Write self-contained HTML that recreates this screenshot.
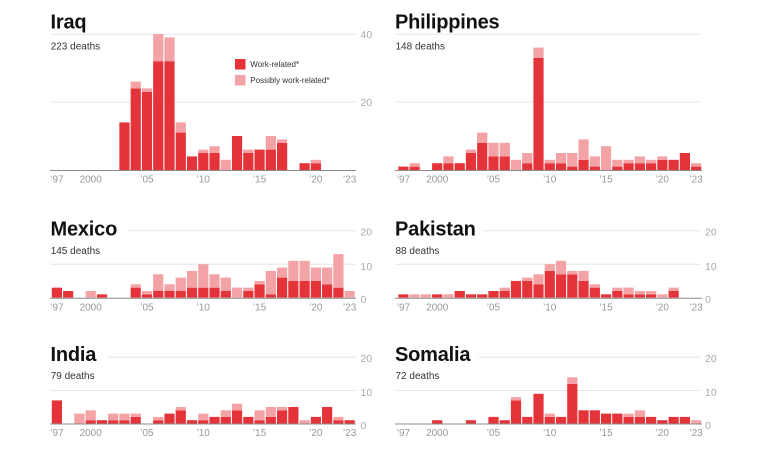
<!DOCTYPE html>
<html>
<head>
<meta charset="utf-8">
<style>
  html,body{margin:0;padding:0;background:#fff;}
  svg{display:block;}
  .t{font-family:"Liberation Sans",Arial,sans-serif;font-weight:bold;font-size:20px;fill:#111;letter-spacing:-0.2px;}
  .d{font-family:"Liberation Sans",Arial,sans-serif;font-size:10px;fill:#333;}
  .ax{font-family:"Liberation Sans",Arial,sans-serif;font-size:10.5px;fill:#aaa;}
  .xl{font-family:"Liberation Sans",Arial,sans-serif;font-size:10px;fill:#999;text-anchor:middle;}
  .lg{font-family:"Liberation Sans",Arial,sans-serif;font-size:8px;fill:#333;}
  .g{stroke:#e6e6e6;stroke-width:1;}
  .b{stroke:#8c8c8c;stroke-width:1;}
  .k{fill:#e5333a;}
  .p{fill:#f3a2a6;}
</style>
</head>
<body>
<svg width="760" height="450" viewBox="0 0 760 450" xmlns="http://www.w3.org/2000/svg">
  <rect width="760" height="450" fill="#fff"/>

  <!-- ================= ROW 1 ================= -->
  <!-- gridlines -->
  <line class="g" x1="50" y1="34.3" x2="355.5" y2="34.3"/>
  <line class="g" x1="50" y1="102" x2="355.5" y2="102"/>
  <line class="g" x1="395" y1="34.3" x2="700" y2="34.3"/>
  <line class="g" x1="395" y1="102" x2="700" y2="102"/>

  <text class="t" x="50.5" y="28.3">Iraq</text>
  <text class="d" x="50.7" y="49.5">223 deaths</text>
  <text class="t" x="395" y="28.3">Philippines</text>
  <text class="d" x="395.5" y="49.5">148 deaths</text>

  <text class="ax" x="360.5" y="38">40</text>
  <text class="ax" x="360.5" y="105.8">20</text>

  <!-- Iraq bars -->
  <g transform="translate(51.8,170) scale(11.26,-3.4)">
    <rect class="k" x="6" y="0" width="0.906" height="14"/>
    <rect class="k" x="7" y="0" width="0.906" height="24"/><rect class="p" x="7" y="24" width="0.906" height="2"/>
    <rect class="k" x="8" y="0" width="0.906" height="23"/><rect class="p" x="8" y="23" width="0.906" height="1"/>
    <rect class="k" x="9" y="0" width="0.906" height="32"/><rect class="p" x="9" y="32" width="0.906" height="8"/>
    <rect class="k" x="10" y="0" width="0.906" height="32"/><rect class="p" x="10" y="32" width="0.906" height="7"/>
    <rect class="k" x="11" y="0" width="0.906" height="11"/><rect class="p" x="11" y="11" width="0.906" height="3"/>
    <rect class="k" x="12" y="0" width="0.906" height="4"/>
    <rect class="k" x="13" y="0" width="0.906" height="5"/><rect class="p" x="13" y="5" width="0.906" height="1"/>
    <rect class="k" x="14" y="0" width="0.906" height="5"/><rect class="p" x="14" y="5" width="0.906" height="2"/>
    <rect class="p" x="15" y="0" width="0.906" height="3"/>
    <rect class="k" x="16" y="0" width="0.906" height="10"/>
    <rect class="k" x="17" y="0" width="0.906" height="5"/><rect class="p" x="17" y="5" width="0.906" height="1"/>
    <rect class="k" x="18" y="0" width="0.906" height="6"/>
    <rect class="k" x="19" y="0" width="0.906" height="6"/><rect class="p" x="19" y="6" width="0.906" height="4"/>
    <rect class="k" x="20" y="0" width="0.906" height="8"/><rect class="p" x="20" y="8" width="0.906" height="1"/>
    <rect class="k" x="22" y="0" width="0.906" height="2"/>
    <rect class="k" x="23" y="0" width="0.906" height="2"/><rect class="p" x="23" y="2" width="0.906" height="1"/>
  </g>
  <line class="b" x1="50" y1="170.5" x2="356" y2="170.5"/>

  <!-- Legend -->
  <rect class="k" x="235" y="59" width="10.5" height="10.5"/>
  <text class="lg" x="250.3" y="67.1">Work-related*</text>
  <rect class="p" x="235" y="75" width="10.5" height="10.5"/>
  <text class="lg" x="250.3" y="83.1">Possibly work-related*</text>

  <!-- Philippines bars -->
  <g transform="translate(398.3,170) scale(11.26,-3.4)">
    <rect class="k" x="0" y="0" width="0.906" height="1"/>
    <rect class="k" x="1" y="0" width="0.906" height="1"/><rect class="p" x="1" y="1" width="0.906" height="1"/>
    <rect class="k" x="3" y="0" width="0.906" height="2"/>
    <rect class="k" x="4" y="0" width="0.906" height="2"/><rect class="p" x="4" y="2" width="0.906" height="2"/>
    <rect class="k" x="5" y="0" width="0.906" height="2"/>
    <rect class="k" x="6" y="0" width="0.906" height="5"/><rect class="p" x="6" y="5" width="0.906" height="1"/>
    <rect class="k" x="7" y="0" width="0.906" height="8"/><rect class="p" x="7" y="8" width="0.906" height="3"/>
    <rect class="k" x="8" y="0" width="0.906" height="4"/><rect class="p" x="8" y="4" width="0.906" height="4"/>
    <rect class="k" x="9" y="0" width="0.906" height="4"/><rect class="p" x="9" y="4" width="0.906" height="4"/>
    <rect class="p" x="10" y="0" width="0.906" height="3"/>
    <rect class="k" x="11" y="0" width="0.906" height="2"/><rect class="p" x="11" y="2" width="0.906" height="3"/>
    <rect class="k" x="12" y="0" width="0.906" height="33"/><rect class="p" x="12" y="33" width="0.906" height="3"/>
    <rect class="k" x="13" y="0" width="0.906" height="2"/><rect class="p" x="13" y="2" width="0.906" height="1"/>
    <rect class="k" x="14" y="0" width="0.906" height="2"/><rect class="p" x="14" y="2" width="0.906" height="3"/>
    <rect class="k" x="15" y="0" width="0.906" height="1"/><rect class="p" x="15" y="1" width="0.906" height="4"/>
    <rect class="k" x="16" y="0" width="0.906" height="3"/><rect class="p" x="16" y="3" width="0.906" height="6"/>
    <rect class="k" x="17" y="0" width="0.906" height="1"/><rect class="p" x="17" y="1" width="0.906" height="3"/>
    <rect class="p" x="18" y="0" width="0.906" height="7"/>
    <rect class="k" x="19" y="0" width="0.906" height="1"/><rect class="p" x="19" y="1" width="0.906" height="2"/>
    <rect class="k" x="20" y="0" width="0.906" height="2"/><rect class="p" x="20" y="2" width="0.906" height="1"/>
    <rect class="k" x="21" y="0" width="0.906" height="2"/><rect class="p" x="21" y="2" width="0.906" height="2"/>
    <rect class="k" x="22" y="0" width="0.906" height="2"/><rect class="p" x="22" y="2" width="0.906" height="1"/>
    <rect class="k" x="23" y="0" width="0.906" height="3"/><rect class="p" x="23" y="3" width="0.906" height="1"/>
    <rect class="k" x="24" y="0" width="0.906" height="3"/>
    <rect class="k" x="25" y="0" width="0.906" height="5"/>
    <rect class="k" x="26" y="0" width="0.906" height="1"/><rect class="p" x="26" y="1" width="0.906" height="1"/>
  </g>
  <line class="b" x1="395" y1="170.5" x2="702" y2="170.5"/>

  <!-- x labels row 1 -->
  <text class="xl" x="56.9" y="182.6">’97</text>
  <text class="xl" x="90.7" y="182.6">2000</text>
  <text class="xl" x="146.9" y="182.6">’05</text>
  <text class="xl" x="203.2" y="182.6">’10</text>
  <text class="xl" x="259.5" y="182.6">’15</text>
  <text class="xl" x="315.8" y="182.6">’20</text>
  <text class="xl" x="349.6" y="182.6">’23</text>
  <text class="xl" x="403.4" y="182.6">’97</text>
  <text class="xl" x="437.2" y="182.6">2000</text>
  <text class="xl" x="493.4" y="182.6">’05</text>
  <text class="xl" x="549.7" y="182.6">’10</text>
  <text class="xl" x="606" y="182.6">’15</text>
  <text class="xl" x="662.3" y="182.6">’20</text>
  <text class="xl" x="696.1" y="182.6">’23</text>

  <!-- ================= ROW 2 ================= -->
  <line class="g" x1="128" y1="230.7" x2="355.5" y2="230.7"/>
  <line class="g" x1="50" y1="264.2" x2="355.5" y2="264.2"/>
  <line class="g" x1="482.7" y1="230.7" x2="700" y2="230.7"/>
  <line class="g" x1="395" y1="264.2" x2="700" y2="264.2"/>

  <text class="t" x="50.5" y="235.7">Mexico</text>
  <text class="d" x="50.7" y="254.2">145 deaths</text>
  <text class="t" x="395" y="235.7">Pakistan</text>
  <text class="d" x="395.5" y="254.2">88 deaths</text>

  <text class="ax" x="360.5" y="235.5">20</text>
  <text class="ax" x="360.5" y="269.8">10</text>
  <text class="ax" x="360.5" y="303">0</text>
  <text class="ax" x="705" y="235.5">20</text>
  <text class="ax" x="705" y="269.8">10</text>
  <text class="ax" x="705" y="303">0</text>

  <!-- Mexico -->
  <g transform="translate(51.8,297.7) scale(11.26,-3.35)">
    <rect class="k" x="0" y="0" width="0.906" height="3"/>
    <rect class="k" x="1" y="0" width="0.906" height="2"/>
    <rect class="p" x="3" y="0" width="0.906" height="2"/>
    <rect class="k" x="4" y="0" width="0.906" height="1"/>
    <rect class="k" x="7" y="0" width="0.906" height="3"/><rect class="p" x="7" y="3" width="0.906" height="1"/>
    <rect class="k" x="8" y="0" width="0.906" height="1"/><rect class="p" x="8" y="1" width="0.906" height="1"/>
    <rect class="k" x="9" y="0" width="0.906" height="2"/><rect class="p" x="9" y="2" width="0.906" height="5"/>
    <rect class="k" x="10" y="0" width="0.906" height="2"/><rect class="p" x="10" y="2" width="0.906" height="2"/>
    <rect class="k" x="11" y="0" width="0.906" height="2"/><rect class="p" x="11" y="2" width="0.906" height="4"/>
    <rect class="k" x="12" y="0" width="0.906" height="3"/><rect class="p" x="12" y="3" width="0.906" height="5"/>
    <rect class="k" x="13" y="0" width="0.906" height="3"/><rect class="p" x="13" y="3" width="0.906" height="7"/>
    <rect class="k" x="14" y="0" width="0.906" height="3"/><rect class="p" x="14" y="3" width="0.906" height="4"/>
    <rect class="k" x="15" y="0" width="0.906" height="2"/><rect class="p" x="15" y="2" width="0.906" height="4"/>
    <rect class="p" x="16" y="0" width="0.906" height="3"/>
    <rect class="k" x="17" y="0" width="0.906" height="2"/><rect class="p" x="17" y="2" width="0.906" height="1"/>
    <rect class="k" x="18" y="0" width="0.906" height="4"/><rect class="p" x="18" y="4" width="0.906" height="1"/>
    <rect class="k" x="19" y="0" width="0.906" height="1"/><rect class="p" x="19" y="1" width="0.906" height="7"/>
    <rect class="k" x="20" y="0" width="0.906" height="6"/><rect class="p" x="20" y="6" width="0.906" height="3"/>
    <rect class="k" x="21" y="0" width="0.906" height="5"/><rect class="p" x="21" y="5" width="0.906" height="6"/>
    <rect class="k" x="22" y="0" width="0.906" height="5"/><rect class="p" x="22" y="5" width="0.906" height="6"/>
    <rect class="k" x="23" y="0" width="0.906" height="5"/><rect class="p" x="23" y="5" width="0.906" height="4"/>
    <rect class="k" x="24" y="0" width="0.906" height="4"/><rect class="p" x="24" y="4" width="0.906" height="5"/>
    <rect class="k" x="25" y="0" width="0.906" height="3"/><rect class="p" x="25" y="3" width="0.906" height="10"/>
    <rect class="p" x="26" y="0" width="0.906" height="2"/>
  </g>
  <line class="b" x1="50" y1="298.2" x2="356" y2="298.2"/>

  <!-- Pakistan -->
  <g transform="translate(398.3,297.7) scale(11.26,-3.35)">
    <rect class="k" x="0" y="0" width="0.906" height="1"/>
    <rect class="p" x="1" y="0" width="0.906" height="1"/>
    <rect class="p" x="2" y="0" width="0.906" height="1"/>
    <rect class="k" x="3" y="0" width="0.906" height="1"/>
    <rect class="p" x="4" y="0" width="0.906" height="1"/>
    <rect class="k" x="5" y="0" width="0.906" height="2"/>
    <rect class="k" x="6" y="0" width="0.906" height="1"/>
    <rect class="k" x="7" y="0" width="0.906" height="1"/>
    <rect class="k" x="8" y="0" width="0.906" height="2"/>
    <rect class="k" x="9" y="0" width="0.906" height="2"/><rect class="p" x="9" y="2" width="0.906" height="1"/>
    <rect class="k" x="10" y="0" width="0.906" height="5"/>
    <rect class="k" x="11" y="0" width="0.906" height="5"/><rect class="p" x="11" y="5" width="0.906" height="1"/>
    <rect class="k" x="12" y="0" width="0.906" height="4"/><rect class="p" x="12" y="4" width="0.906" height="3"/>
    <rect class="k" x="13" y="0" width="0.906" height="8"/><rect class="p" x="13" y="8" width="0.906" height="2"/>
    <rect class="k" x="14" y="0" width="0.906" height="7"/><rect class="p" x="14" y="7" width="0.906" height="4"/>
    <rect class="k" x="15" y="0" width="0.906" height="7"/><rect class="p" x="15" y="7" width="0.906" height="1"/>
    <rect class="k" x="16" y="0" width="0.906" height="5"/><rect class="p" x="16" y="5" width="0.906" height="3"/>
    <rect class="k" x="17" y="0" width="0.906" height="3"/><rect class="p" x="17" y="3" width="0.906" height="1"/>
    <rect class="k" x="18" y="0" width="0.906" height="1"/>
    <rect class="k" x="19" y="0" width="0.906" height="2"/><rect class="p" x="19" y="2" width="0.906" height="1"/>
    <rect class="k" x="20" y="0" width="0.906" height="1"/><rect class="p" x="20" y="1" width="0.906" height="2"/>
    <rect class="k" x="21" y="0" width="0.906" height="1"/><rect class="p" x="21" y="1" width="0.906" height="1"/>
    <rect class="k" x="22" y="0" width="0.906" height="1"/><rect class="p" x="22" y="1" width="0.906" height="1"/>
    <rect class="p" x="23" y="0" width="0.906" height="1"/>
    <rect class="k" x="24" y="0" width="0.906" height="2"/><rect class="p" x="24" y="2" width="0.906" height="1"/>
  </g>
  <line class="b" x1="395" y1="298.2" x2="702" y2="298.2"/>

  <!-- x labels row 2 -->
  <text class="xl" x="56.9" y="310.3">’97</text>
  <text class="xl" x="90.7" y="310.3">2000</text>
  <text class="xl" x="146.9" y="310.3">’05</text>
  <text class="xl" x="203.2" y="310.3">’10</text>
  <text class="xl" x="259.5" y="310.3">’15</text>
  <text class="xl" x="315.8" y="310.3">’20</text>
  <text class="xl" x="349.6" y="310.3">’23</text>
  <text class="xl" x="403.4" y="310.3">’97</text>
  <text class="xl" x="437.2" y="310.3">2000</text>
  <text class="xl" x="493.4" y="310.3">’05</text>
  <text class="xl" x="549.7" y="310.3">’10</text>
  <text class="xl" x="606" y="310.3">’15</text>
  <text class="xl" x="662.3" y="310.3">’20</text>
  <text class="xl" x="696.1" y="310.3">’23</text>

  <!-- ================= ROW 3 ================= -->
  <line class="g" x1="106.7" y1="357.3" x2="355.5" y2="357.3"/>
  <line class="g" x1="50" y1="390.5" x2="355.5" y2="390.5"/>
  <line class="g" x1="478.3" y1="357.3" x2="700" y2="357.3"/>
  <line class="g" x1="395" y1="390.5" x2="700" y2="390.5"/>

  <text class="t" x="50.5" y="361">India</text>
  <text class="d" x="50.7" y="379.2">79 deaths</text>
  <text class="t" x="395" y="361">Somalia</text>
  <text class="d" x="395.5" y="379.2">72 deaths</text>

  <text class="ax" x="360.5" y="362">20</text>
  <text class="ax" x="360.5" y="396">10</text>
  <text class="ax" x="360.5" y="428.8">0</text>
  <text class="ax" x="705" y="362">20</text>
  <text class="ax" x="705" y="396">10</text>
  <text class="ax" x="705" y="428.8">0</text>

  <!-- India -->
  <g transform="translate(51.8,423.5) scale(11.26,-3.3)">
    <rect class="k" x="0" y="0" width="0.906" height="7"/>
    <rect class="p" x="2" y="0" width="0.906" height="3"/>
    <rect class="k" x="3" y="0" width="0.906" height="1"/><rect class="p" x="3" y="1" width="0.906" height="3"/>
    <rect class="k" x="4" y="0" width="0.906" height="1"/>
    <rect class="k" x="5" y="0" width="0.906" height="1"/><rect class="p" x="5" y="1" width="0.906" height="2"/>
    <rect class="k" x="6" y="0" width="0.906" height="1"/><rect class="p" x="6" y="1" width="0.906" height="2"/>
    <rect class="k" x="7" y="0" width="0.906" height="2"/><rect class="p" x="7" y="2" width="0.906" height="1"/>
    <rect class="k" x="9" y="0" width="0.906" height="1"/><rect class="p" x="9" y="1" width="0.906" height="1"/>
    <rect class="k" x="10" y="0" width="0.906" height="3"/>
    <rect class="k" x="11" y="0" width="0.906" height="4"/><rect class="p" x="11" y="4" width="0.906" height="1"/>
    <rect class="k" x="12" y="0" width="0.906" height="1"/>
    <rect class="k" x="13" y="0" width="0.906" height="1"/><rect class="p" x="13" y="1" width="0.906" height="2"/>
    <rect class="k" x="14" y="0" width="0.906" height="2"/>
    <rect class="k" x="15" y="0" width="0.906" height="2"/><rect class="p" x="15" y="2" width="0.906" height="2"/>
    <rect class="k" x="16" y="0" width="0.906" height="4"/><rect class="p" x="16" y="4" width="0.906" height="2"/>
    <rect class="k" x="17" y="0" width="0.906" height="2"/>
    <rect class="k" x="18" y="0" width="0.906" height="1"/><rect class="p" x="18" y="1" width="0.906" height="3"/>
    <rect class="k" x="19" y="0" width="0.906" height="2"/><rect class="p" x="19" y="2" width="0.906" height="3"/>
    <rect class="k" x="20" y="0" width="0.906" height="4"/><rect class="p" x="20" y="4" width="0.906" height="1"/>
    <rect class="k" x="21" y="0" width="0.906" height="5"/>
    <rect class="p" x="22" y="0" width="0.906" height="1"/>
    <rect class="k" x="23" y="0" width="0.906" height="2"/>
    <rect class="k" x="24" y="0" width="0.906" height="5"/>
    <rect class="k" x="25" y="0" width="0.906" height="1"/><rect class="p" x="25" y="1" width="0.906" height="1"/>
    <rect class="k" x="26" y="0" width="0.906" height="1"/>
  </g>
  <line class="b" x1="50" y1="424" x2="356" y2="424"/>

  <!-- Somalia -->
  <g transform="translate(398.3,423.5) scale(11.26,-3.3)">
    <rect class="k" x="3" y="0" width="0.906" height="1"/>
    <rect class="k" x="6" y="0" width="0.906" height="1"/>
    <rect class="k" x="8" y="0" width="0.906" height="2"/>
    <rect class="k" x="9" y="0" width="0.906" height="1"/>
    <rect class="k" x="10" y="0" width="0.906" height="7"/><rect class="p" x="10" y="7" width="0.906" height="1"/>
    <rect class="k" x="11" y="0" width="0.906" height="2"/>
    <rect class="k" x="12" y="0" width="0.906" height="9"/>
    <rect class="k" x="13" y="0" width="0.906" height="2"/><rect class="p" x="13" y="2" width="0.906" height="1"/>
    <rect class="k" x="14" y="0" width="0.906" height="2"/>
    <rect class="k" x="15" y="0" width="0.906" height="12"/><rect class="p" x="15" y="12" width="0.906" height="2"/>
    <rect class="k" x="16" y="0" width="0.906" height="4"/>
    <rect class="k" x="17" y="0" width="0.906" height="4"/>
    <rect class="k" x="18" y="0" width="0.906" height="3"/>
    <rect class="k" x="19" y="0" width="0.906" height="3"/>
    <rect class="k" x="20" y="0" width="0.906" height="2"/><rect class="p" x="20" y="2" width="0.906" height="1"/>
    <rect class="k" x="21" y="0" width="0.906" height="2"/><rect class="p" x="21" y="2" width="0.906" height="2"/>
    <rect class="k" x="22" y="0" width="0.906" height="2"/>
    <rect class="k" x="23" y="0" width="0.906" height="1"/>
    <rect class="k" x="24" y="0" width="0.906" height="2"/>
    <rect class="k" x="25" y="0" width="0.906" height="2"/>
    <rect class="p" x="26" y="0" width="0.906" height="1"/>
  </g>
  <line class="b" x1="395" y1="424" x2="702" y2="424"/>

  <!-- x labels row 3 -->
  <text class="xl" x="56.9" y="436">’97</text>
  <text class="xl" x="90.7" y="436">2000</text>
  <text class="xl" x="146.9" y="436">’05</text>
  <text class="xl" x="203.2" y="436">’10</text>
  <text class="xl" x="259.5" y="436">’15</text>
  <text class="xl" x="315.8" y="436">’20</text>
  <text class="xl" x="349.6" y="436">’23</text>
  <text class="xl" x="403.4" y="436">’97</text>
  <text class="xl" x="437.2" y="436">2000</text>
  <text class="xl" x="493.4" y="436">’05</text>
  <text class="xl" x="549.7" y="436">’10</text>
  <text class="xl" x="606" y="436">’15</text>
  <text class="xl" x="662.3" y="436">’20</text>
  <text class="xl" x="696.1" y="436">’23</text>
</svg>
</body>
</html>
